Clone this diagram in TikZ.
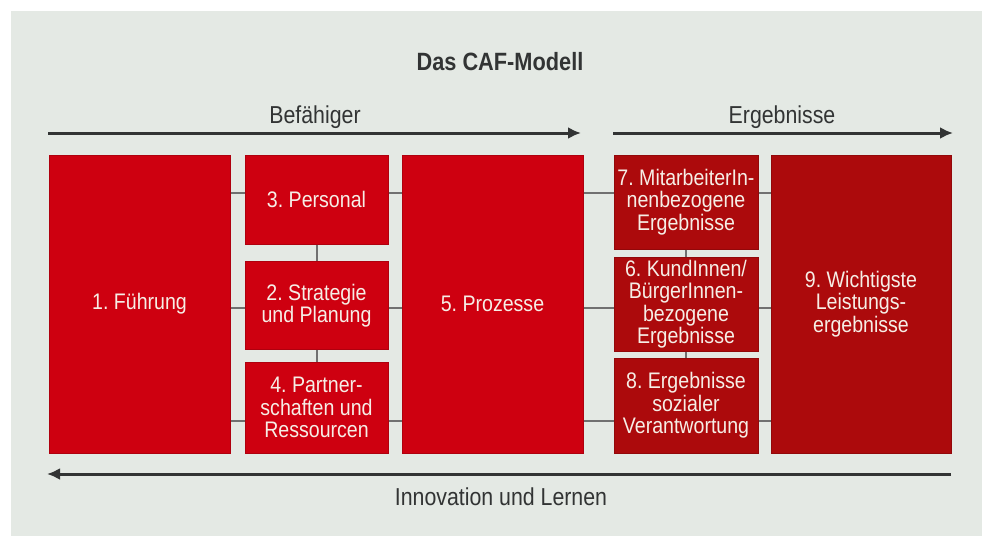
\documentclass[tikz,border=0pt]{standalone}
\usepackage{fontspec}
\setmainfont{Liberation Sans}[FakeStretch=0.87]
\usetikzlibrary{arrows.meta}
\frenchspacing
\definecolor{cafbg}{RGB}{228,233,228}
\definecolor{cafred}{RGB}{206,0,16}
\definecolor{cafdark}{RGB}{172,10,12}
\definecolor{caftext}{RGB}{246,238,230}
\definecolor{cafline}{RGB}{112,112,112}
\definecolor{cafarrow}{RGB}{50,52,52}
\tikzset{
  cafbox/.style={rectangle, fill=cafred, draw=cafred!85!black, line width=1pt,
    text=caftext, align=center, inner sep=0pt,
    font=\fontsize{22.5}{22.5}\selectfont},
  resbox/.style={cafbox, fill=cafdark, draw=cafdark!85!black},
  link/.style={draw=cafline, line width=2pt},
  flow/.style={draw=cafarrow, line width=3pt, -{Latex[length=13pt,width=12pt]}},
  caption/.style={text=cafarrow, font=\fontsize{24.5}{26}\selectfont}
}
\begin{document}
\begin{tikzpicture}[x=1pt,y=-1pt] %[scale=0.8]
    \useasboundingbox (0,0) rectangle (982,536);
    \fill [cafbg] (11,11) rectangle (982,536);
    \node [caption, font=\fontsize{25}{26}\selectfont\bfseries] (title) at (500,62) {Das CAF-Modell};
    \node [caption] (befl) at (315,117) {Befähiger};
    \node [caption] (ergl) at (782,117) {Ergebnisse};
    \node [caption] (innl) at (501,497) {Innovation und Lernen};
    \coordinate (b1) at (48,133);
    \coordinate (b2) at (581,133);
    \coordinate (e1) at (613,133);
    \coordinate (e2) at (953,133);
    \coordinate (i1) at (951,474);
    \coordinate (i2) at (47,474);
    \coordinate (r1) at (0,193);
    \coordinate (r2) at (0,308);
    \coordinate (r3) at (0,421);
    \node [cafbox, minimum width=181pt, minimum height=298pt] (f1) at (139.5,304) {1. Führung};
    \node [cafbox, minimum width=143pt, minimum height=89pt] (p3) at (316.5,199.5) {3. Personal};
    \node [cafbox, minimum width=143pt, minimum height=88pt] (p2) at (316.5,305.5) {2. Strategie\\und Planung};
    \node [cafbox, minimum width=143pt, minimum height=91pt] (p4) at (316.5,407.5) {4. Partner-\\schaften und\\Ressourcen};
    \node [cafbox, minimum width=181pt, minimum height=298pt] (p5) at (492.5,304) {5. Prozesse};
    \node [resbox, minimum width=144pt, minimum height=94pt] (e7) at (686,202) {7. MitarbeiterIn-\\nenbezogene\\Ergebnisse};
    \node [resbox, minimum width=144pt, minimum height=94pt] (e6) at (686,304) {6. KundInnen/\\BürgerInnen-\\bezogene\\Ergebnisse};
    \node [resbox, minimum width=144pt, minimum height=95pt] (e8) at (686,405.5) {8. Ergebnisse\\sozialer\\Verantwortung};
    \node [resbox, minimum width=180pt, minimum height=298pt] (e9) at (861,304) {9. Wichtigste\\Leistungs-\\ergebnisse};
    \draw [link] (f1.east |- r1) -- (p3.west |- r1);
    \draw [link] (f1.east |- r2) -- (p2.west |- r2);
    \draw [link] (f1.east |- r3) -- (p4.west |- r3);
    \draw [link] (p3.east |- r1) -- (p5.west |- r1);
    \draw [link] (p2.east |- r2) -- (p5.west |- r2);
    \draw [link] (p4.east |- r3) -- (p5.west |- r3);
    \draw [link] (p5.east |- r1) -- (e7.west |- r1);
    \draw [link] (p5.east |- r2) -- (e6.west |- r2);
    \draw [link] (p5.east |- r3) -- (e8.west |- r3);
    \draw [link] (e7.east |- r1) -- (e9.west |- r1);
    \draw [link] (e6.east |- r2) -- (e9.west |- r2);
    \draw [link] (e8.east |- r3) -- (e9.west |- r3);
    \draw [link] (p3) -- (p2);
    \draw [link] (p2) -- (p4);
    \draw [link] (e7) -- (e6);
    \draw [link] (e6) -- (e8);
    \draw [flow] (b1) -- (b2);
    \draw [flow] (e1) -- (e2);
    \draw [flow] (i1) -- (i2);
  \end{tikzpicture}
\end{document}
